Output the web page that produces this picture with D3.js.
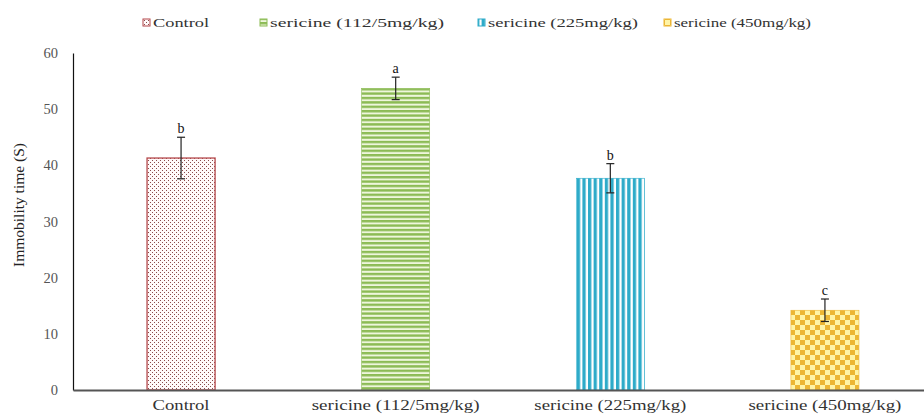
<!DOCTYPE html>
<html>
<head>
<meta charset="utf-8">
<script src="https://cdn.jsdelivr.net/npm/d3@7/dist/d3.min.js"></script>
<style>
  html, body { margin: 0; padding: 0; background: #fff; }
  svg { display: block; }
  svg text { font-family: "Liberation Serif", "DejaVu Serif", serif !important; }
</style>
</head>
<body>
<svg id="chart" width="924" height="416"></svg>
<script>
// Immobility time per treatment group
const categories = ["Control", "sericine (112/5mg/kg)", "sericine (225mg/kg)", "sericine (450mg/kg)"];
const means = [41.3, 53.7, 37.7, 14.2];
const errors = [3.7, 2.0, 2.6, 2.0];
const letters = ["b", "a", "b", "c"];
const yTicks = [0, 10, 20, 30, 40, 50, 60];
const legendLabels = ["Control", "sericine (112/5mg/kg)", "sericine (225mg/kg)", "sericine (450mg/kg)"];

const svg = d3.select("#chart");

const x = d3.scaleBand().domain(categories).range([73, 933])
  .paddingInner(0.683).paddingOuter(0.345);
const y = d3.scaleLinear().domain([0, 60]).range([390, 53]);

// fill patterns, one per group
const defs = svg.append("defs");
const pDots = defs.append("pattern").attr("id", "pat0").attr("patternUnits", "userSpaceOnUse")
  .attr("width", 4).attr("height", 4);
pDots.append("rect").attr("width", 4).attr("height", 4).attr("fill", "#fffafa");
pDots.append("rect").attr("x", 0).attr("y", 0).attr("width", 1).attr("height", 1).attr("fill", "#8a4a4a");
pDots.append("rect").attr("x", 2).attr("y", 2).attr("width", 1).attr("height", 1).attr("fill", "#8a4a4a");

const pH = defs.append("pattern").attr("id", "pat1").attr("patternUnits", "userSpaceOnUse")
  .attr("width", 4).attr("height", 4.4);
pH.append("rect").attr("width", 4).attr("height", 4.4).attr("fill", "#eef6dc");
pH.append("rect").attr("width", 4).attr("height", 2.4).attr("fill", "#8cbb55");

const pV = defs.append("pattern").attr("id", "pat2").attr("patternUnits", "userSpaceOnUse")
  .attr("width", 5.6).attr("height", 4);
pV.append("rect").attr("width", 5.6).attr("height", 4).attr("fill", "#ffffff");
pV.append("rect").attr("width", 3.3).attr("height", 4).attr("fill", "#2eabc9");

const pC = defs.append("pattern").attr("id", "pat3").attr("patternUnits", "userSpaceOnUse")
  .attr("width", 10).attr("height", 10);
pC.append("rect").attr("width", 10).attr("height", 10).attr("fill", "#fff4a6");
pC.append("rect").attr("width", 5).attr("height", 5).attr("fill", "#ecb634");
pC.append("rect").attr("x", 5).attr("y", 5).attr("width", 5).attr("height", 5).attr("fill", "#ecb634");

const borders = ["#b4474a", "#8cbb55", "#2eabc9", "#ecb634"];

// bars
svg.append("g").selectAll("rect").data(categories).join("rect")
  .attr("x", d => x(d))
  .attr("y", (d, i) => y(means[i]))
  .attr("width", x.bandwidth())
  .attr("height", (d, i) => y(0) - y(means[i]))
  .attr("fill", (d, i) => `url(#pat${i})`)
  .attr("stroke", (d, i) => borders[i])
  .attr("stroke-width", (d, i) => i === 0 ? 1.3 : 0.6);

// error bars
const eb = svg.append("g").attr("stroke", "#222").attr("stroke-width", 1.2);
categories.forEach((c, i) => {
  const cx = x(c) + x.bandwidth() / 2;
  const top = y(means[i] + errors[i]), bot = y(means[i] - errors[i]);
  eb.append("line").attr("x1", cx).attr("x2", cx).attr("y1", top).attr("y2", bot);
  eb.append("line").attr("x1", cx - 4).attr("x2", cx + 4).attr("y1", top).attr("y2", top);
  eb.append("line").attr("x1", cx - 4).attr("x2", cx + 4).attr("y1", bot).attr("y2", bot);
});

// significance letters
svg.append("g").selectAll("text").data(categories).join("text")
  .attr("x", d => x(d) + x.bandwidth() / 2)
  .attr("y", (d, i) => y(means[i] + errors[i]) - 4)
  .attr("text-anchor", "middle")
  .attr("font-size", 14)
  .attr("fill", "#111")
  .text((d, i) => letters[i]);

// y axis: line and tick labels
const yAxis = svg.append("g").attr("transform", "translate(73,0)")
  .call(d3.axisLeft(y).tickValues(yTicks).tickSize(0).tickPadding(15).tickFormat(d3.format("d")));
yAxis.select(".domain").attr("stroke", "#111").attr("stroke-width", 1.2);
yAxis.selectAll("text").attr("font-size", 14.5).attr("fill", "#555");

// x axis: baseline and category labels
const xAxis = svg.append("g").attr("transform", "translate(0,390)")
  .call(d3.axisBottom(x).tickSize(0).tickPadding(10));
xAxis.select(".domain").attr("stroke", "#555").attr("stroke-width", 2);
const xWidths = [57, 168, 152, 153];
xAxis.selectAll("text").attr("font-size", 14.5).attr("fill", "#333")
  .attr("textLength", (d, i) => xWidths[i]).attr("lengthAdjust", "spacingAndGlyphs");

// y axis title
svg.append("text")
  .attr("transform", "translate(24,205) rotate(-90)")
  .attr("text-anchor", "middle")
  .attr("font-size", 15.5)
  .attr("fill", "#222")
  .attr("textLength", 124).attr("lengthAdjust", "spacingAndGlyphs")
  .text("Immobility time (S)");

// legend
const legX = [143, 260, 478, 664];
const legWidths = [56, 174, 150, 137];
const leg = svg.append("g");
legendLabels.forEach((t, i) => {
  leg.append("rect").attr("x", legX[i]).attr("y", 19).attr("width", 7).attr("height", 7)
    .attr("fill", `url(#pat${i})`).attr("stroke", borders[i]).attr("stroke-width", 1);
  leg.append("text").attr("x", legX[i] + 10).attr("y", 27)
    .attr("font-size", 13.5).attr("fill", "#333")
    .attr("textLength", legWidths[i]).attr("lengthAdjust", "spacingAndGlyphs")
    .text(t);
});
</script>
</body>
</html>
